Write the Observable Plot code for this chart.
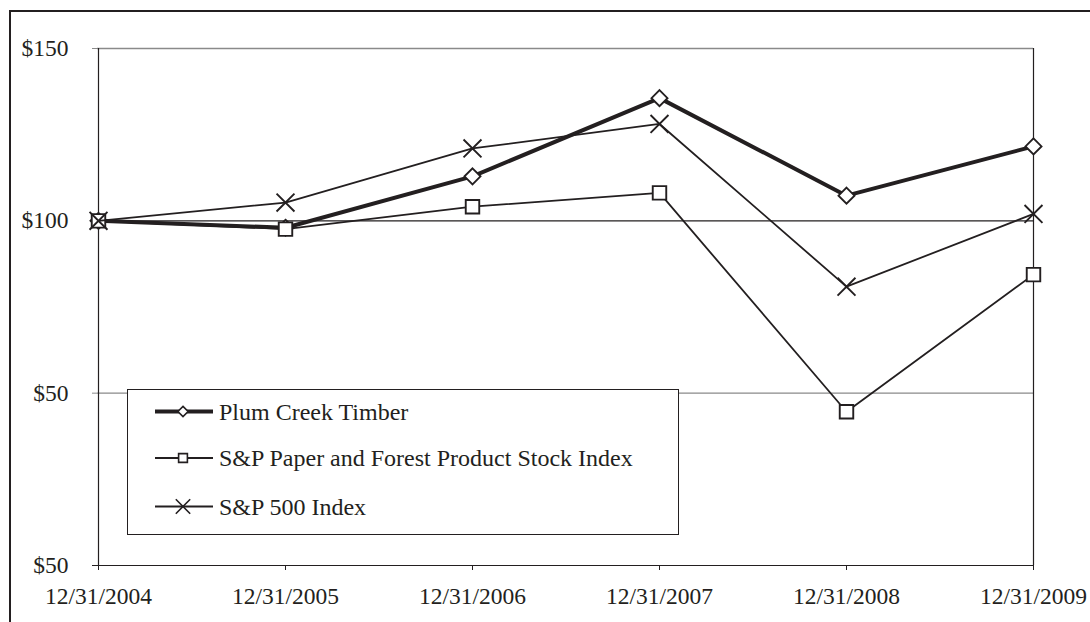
<!DOCTYPE html>
<html>
<head>
<meta charset="utf-8">
<script src="https://cdn.jsdelivr.net/npm/d3@7"></script>
<script src="https://cdn.jsdelivr.net/npm/@observablehq/plot@0.6"></script>
<style>
  html, body { margin: 0; padding: 0; background: #fff; width: 1090px; height: 622px; overflow: hidden; }
  #wrap { position: relative; width: 1090px; height: 622px; }
  #frame { position: absolute; left: 9px; top: 10px; width: 1200px; height: 800px; border: 2px solid #231f20; box-sizing: border-box; }
  #chart { position: absolute; left: 0; top: 0; }
  #legend { position: absolute; left: 127px; top: 389px; width: 552px; height: 146px; box-sizing: border-box;
            border: 1.5px solid #231f20; background: #fff; }
  svg text { font-family: "Liberation Serif", Tinos, "Times New Roman", serif; }
</style>
</head>
<body>
<div id="wrap">
  <div id="frame"></div>
  <div id="chart"></div>
  <div id="legend"></div>
</div>
<script>
const dates = ["12/31/2004", "12/31/2005", "12/31/2006", "12/31/2007", "12/31/2008", "12/31/2009"];
const plumCreek = [100, 98.0, 112.9, 135.6, 107.3, 121.6];
const paperIndex = [100, 97.6, 104.1, 108.1, 44.6, 84.4];
const sp500 = [100, 105.3, 121.0, 128.1, 80.9, 102.0];
const seriesNames = ["Plum Creek Timber", "S&P Paper and Forest Product Stock Index", "S&P 500 Index"];
const yTicks = [0, 50, 100, 150];
const yTickLabels = ["$50", "$50", "$100", "$150"];

const seriesValues = [plumCreek, paperIndex, sp500];
const rows = seriesNames.flatMap((s, i) => dates.map((d, j) => ({series: s, date: d, value: seriesValues[i][j]})));
const bySeries = name => rows.filter(r => r.series === name);

const ink = "#231f20";
const serif = "'Liberation Serif', Tinos, 'Times New Roman', serif";
const fmt = d => yTickLabels[yTicks.indexOf(d)];

const styles = [
  {symbol: "diamond2", r: 7.2, lineWidth: 4},
  {symbol: "square2", r: 8.6, lineWidth: 1.8},
  {symbol: "times", r: 8.2, lineWidth: 1.8}
];

const seriesMarks = seriesNames.flatMap((name, i) => [
  Plot.line(bySeries(name), {x: "date", y: "value", stroke: ink, strokeWidth: styles[i].lineWidth}),
  Plot.dot(bySeries(name), {x: "date", y: "value", symbol: styles[i].symbol, r: styles[i].r,
    stroke: ink, fill: "white", strokeWidth: 1.9})
]);

const chart = Plot.plot({
  width: 1090,
  height: 622,
  marginLeft: 97,
  marginRight: 57,
  marginTop: 48,
  marginBottom: 57,
  style: {fontFamily: serif, fontSize: "23.5px", color: ink, background: "transparent"},
  x: {type: "point", domain: dates, padding: 0},
  y: {domain: [0, 150]},
  marks: [
    Plot.ruleY([50, 150], {stroke: "#8a8a8a", strokeWidth: 1.3}),
    Plot.ruleY([100], {stroke: ink, strokeWidth: 1.2}),
    Plot.ruleX([dates[0], dates[dates.length - 1]], {y1: 0, y2: 150, stroke: ink, strokeWidth: 1.2}),
    Plot.ruleY([0], {stroke: ink, strokeWidth: 1.2}),
    Plot.axisY([50, 150], {tickFormat: fmt, tickSize: 5, tickPadding: 24, stroke: "#8a8a8a", fill: ink, label: null}),
    Plot.axisY([0, 100], {tickFormat: fmt, tickSize: 5, tickPadding: 24, stroke: ink, fill: ink, label: null}),
    Plot.axisX({tickSize: 5, tickPadding: 17, stroke: ink, fill: ink, label: null}),
    ...seriesMarks
  ]
});
document.getElementById("chart").appendChild(chart);

// Legend
const legend = d3.select("#legend");
const lsvg = legend.append("svg").attr("width", 549).attr("height", 143).style("position", "absolute").style("left", 0).style("top", 0);
const rowY = [21.5, 68, 116.5];
const sizes = [Math.PI * 4.6 * 4.6, Math.PI * 5.6 * 5.6, Math.PI * 6.6 * 6.6];
const d3Symbols = [d3.symbolDiamond2, d3.symbolSquare2, d3.symbolTimes];
seriesNames.forEach((name, i) => {
  const g = lsvg.append("g").attr("transform", `translate(0,${rowY[i]})`);
  g.append("line").attr("x1", 27).attr("x2", 85).attr("y1", 0).attr("y2", 0)
    .attr("stroke", ink).attr("stroke-width", styles[i].lineWidth);
  g.append("path").attr("d", d3.symbol(d3Symbols[i], sizes[i])()).attr("transform", "translate(55,0)")
    .attr("fill", "white").attr("stroke", ink).attr("stroke-width", 1.6);
  g.append("text").attr("x", 91).attr("y", 0).attr("dy", "0.35em").attr("fill", ink)
    .style("font-size", "24px").style("font-family", serif).text(name);
});
</script>
</body>
</html>
